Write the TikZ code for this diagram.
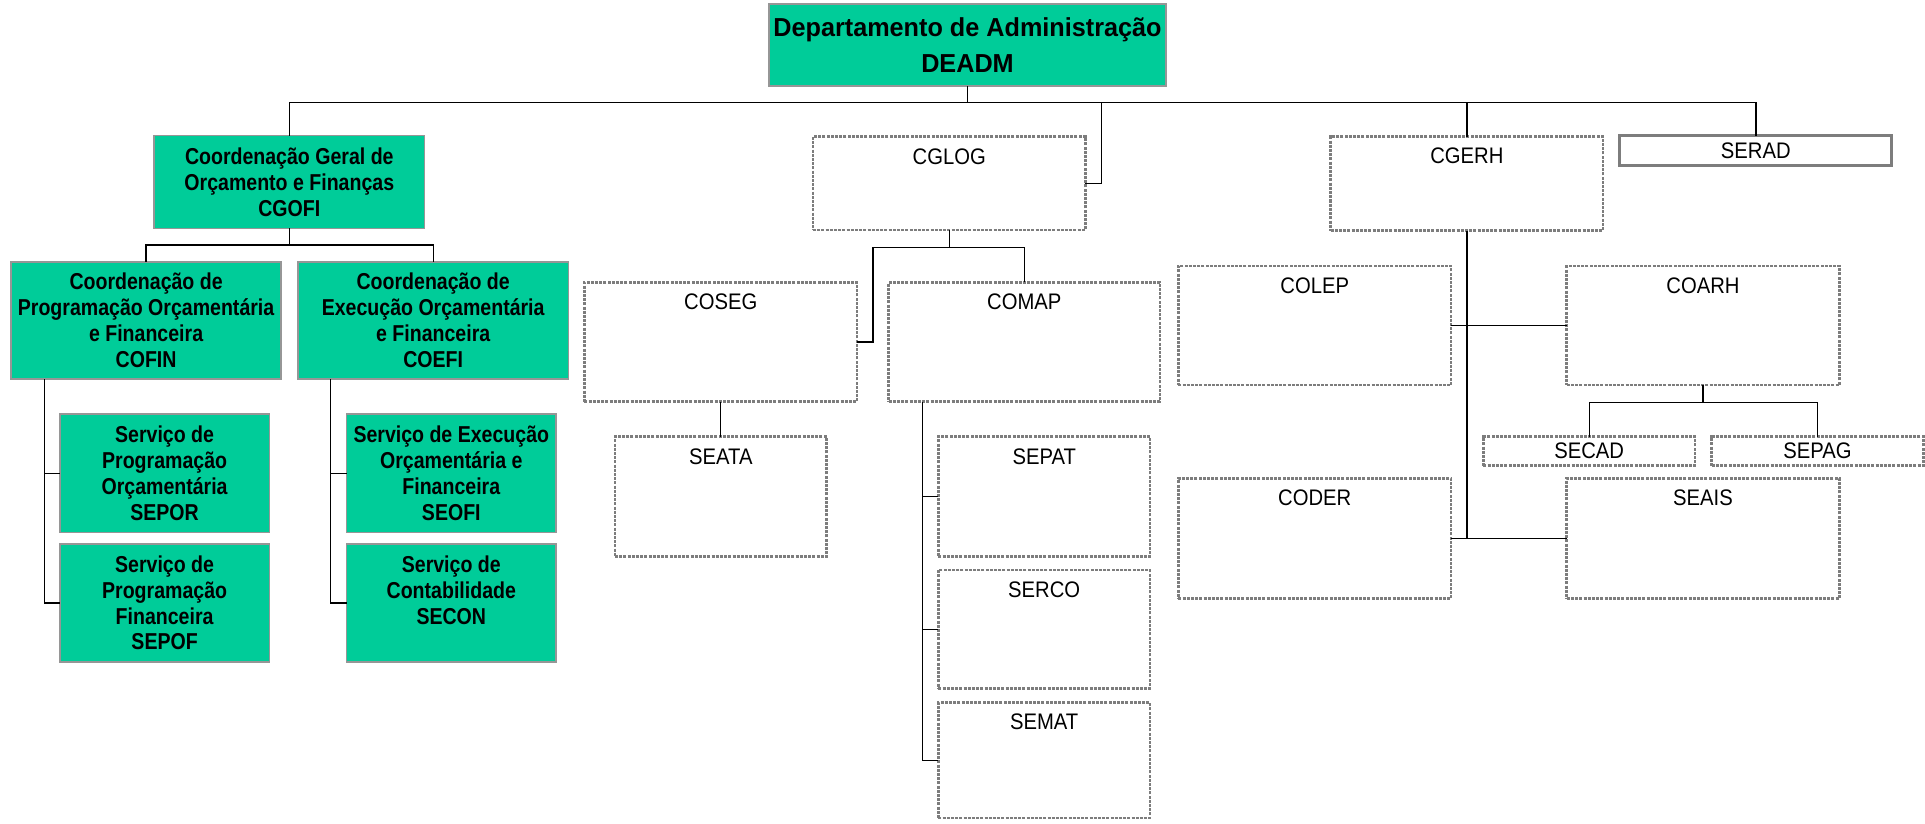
\documentclass[tikz,border=0pt]{standalone}
\usepackage{fontspec}
\setmainfont{Liberation Sans}
\newfontfamily\headsans[FakeStretch=0.97]{Liberation Sans}
\newfontfamily\narrowsans[FakeStretch=0.85]{Liberation Sans}
\newfontfamily\labelsans[FakeStretch=0.9]{Liberation Sans}
\usetikzlibrary{calc}

\definecolor{orgGreen}{RGB}{0,204,153}
\definecolor{greenEdge}{RGB}{150,150,150}
\definecolor{dashEdge}{RGB}{125,125,125}

% struts that centre the cap height of the first line / baseline of the last line
\newcommand\gst{\rule[-4.5pt]{0pt}{25.5pt}}
\newcommand\tst{\rule[-6.4pt]{0pt}{31.4pt}}

\tikzset{
  unitbase/.style={inner sep=0pt, outer sep=0pt},
  link/.style={draw=black, line width=1.4pt},
  topbox/.style={unitbase, draw=greenEdge, line width=1.6pt, fill=orgGreen, align=center,
    font=\headsans\bfseries\fontsize{26}{35.7}\selectfont},
  greenbox/.style={unitbase, draw=greenEdge, line width=1.6pt, fill=orgGreen, align=center,
    font=\narrowsans\bfseries\fontsize{23}{25.8}\selectfont},
  dashbox/.style={unitbase, draw=dashEdge, line width=2.6pt, dash pattern=on 3pt off 1.2pt,
    label={[anchor=base, yshift=-27.3pt, draw=none, fill=none, solid,
      font=\labelsans\fontsize{22.5}{25}\selectfont]north:#1}},
  slimbox/.style={unitbase, draw=dashEdge, line width=2.6pt, dash pattern=on 3pt off 1.2pt,
    font=\labelsans\fontsize{22.5}{25}\selectfont},
  solidbox/.style={unitbase, draw=dashEdge, line width=3pt,
    font=\labelsans\fontsize{22.5}{25}\selectfont},
}

\begin{document}
\begin{tikzpicture}[x=1pt, y=-1pt]
\useasboundingbox (0,0) rectangle (1925,824);

% ---- department ----
\node[topbox, minimum width=397pt, minimum height=82pt] (deadm) at (967.5,45)
  {\tst Departamento de Administração\\DEADM\tst};

% ---- budget and finance branch ----
\node[greenbox, minimum width=270.7pt, minimum height=92.6pt] (cgofi) at (289.3,182)
  {\gst Coordenação Geral de\\Orçamento e Finanças\\CGOFI\gst};
\node[greenbox, minimum width=270.2pt, minimum height=117.3pt] (cofin) at (146.1,320.4)
  {\gst Coordenação de\\Programação Orçamentária\\e Financeira\\COFIN\gst};
\node[greenbox, minimum width=270.8pt, minimum height=117.3pt] (coefi) at (433.2,320.4)
  {\gst Coordenação de\\Execução Orçamentária\\e Financeira\\COEFI\gst};
\node[greenbox, minimum width=209.4pt, minimum height=118.3pt] (sepor) at (164.6,473.2)
  {\gst Serviço de\\Programação\\Orçamentária\\SEPOR\gst};
\node[greenbox, minimum width=209.4pt, minimum height=117.7pt] (sepof) at (164.6,602.9)
  {\gst Serviço de\\Programação\\Financeira\\SEPOF\gst};
\node[greenbox, minimum width=209.4pt, minimum height=118.3pt] (seofi) at (451.3,473.2)
  {\gst Serviço de Execução\\Orçamentária e\\Financeira\\SEOFI\gst};
\node[greenbox, minimum width=209.4pt, minimum height=117.7pt] (secon) at (451.3,602.9)
  {\gst Serviço de\\Contabilidade\\SECON\\\gst};

% ---- logistics branch ----
\node[dashbox=CGLOG, minimum width=272.4pt, minimum height=93.3pt] (cglog) at (949.2,183.4) {};
\node[dashbox=COSEG, minimum width=272.6pt, minimum height=119.4pt] (coseg) at (720.7,342) {};
\node[dashbox=COMAP, minimum width=271.5pt, minimum height=119.4pt] (comap) at (1024.3,342) {};
\node[dashbox=SEATA, minimum width=211.7pt, minimum height=120pt] (seata) at (720.8,496.7) {};
\node[dashbox=SEPAT, minimum width=211.7pt, minimum height=120pt] (sepat) at (1044.2,496.7) {};
\node[dashbox=SERCO, minimum width=211.7pt, minimum height=118.3pt] (serco) at (1044.2,629.2) {};
\node[dashbox=SEMAT, minimum width=211.7pt, minimum height=115.3pt] (semat) at (1044.2,760.3) {};

% ---- human resources branch ----
\node[dashbox=CGERH, minimum width=272.3pt, minimum height=94pt] (cgerh) at (1466.8,183.7) {};
\node[dashbox=COLEP, minimum width=272.7pt, minimum height=119pt] (colep) at (1314.7,325.5) {};
\node[dashbox=COARH, minimum width=272.6pt, minimum height=119pt] (coarh) at (1703,325.5) {};
\node[dashbox=CODER, minimum width=272.7pt, minimum height=120.4pt] (coder) at (1314.7,538.5) {};
\node[dashbox=SEAIS, minimum width=272.6pt, minimum height=120.4pt] (seais) at (1703,538.5) {};
\node[slimbox, minimum width=211.6pt, minimum height=29pt] (secad) at (1589.2,451.2) {SECAD};
\node[slimbox, minimum width=211.6pt, minimum height=29pt] (sepag) at (1817.5,451.2) {SEPAG};

% ---- support service ----
\node[solidbox, minimum width=271.7pt, minimum height=30pt] (serad) at (1755.8,151) {SERAD};

% ---- connectors ----
\coordinate (bus) at (0,102.7);
\coordinate (logtap) at (1101.6,102.7);
\coordinate (finx) at (44.4,0);
\coordinate (exx) at (330.4,0);
\coordinate (logbar) at (873,247.7);
\coordinate (mapx) at (922.5,0);

\draw[link] (cgofi.north) |- (serad.north |- bus) -- (serad.north);
\draw[link] (deadm.south) -- (deadm.south |- bus);
\draw[link] (cgerh.north) -- (cgerh.north |- bus);
\draw[link] (cglog.east) -| (logtap);

\draw[link] (cgofi.south) -- ++(0,16.7);
\draw[link] (cofin.north) -- ++(0,-16.7) -| (coefi.north);
\draw[link] (cofin.south -| finx) |- (sepof.west);
\draw[link] (sepor.west) -- (sepor.west -| finx);
\draw[link] (coefi.south -| exx) |- (secon.west);
\draw[link] (seofi.west) -- (seofi.west -| exx);

\draw[link] (cglog.south) -- ++(0,17.7);
\draw[link] (comap.north) |- (logbar) |- (coseg.east);
\draw[link] (coseg.south) -- (coseg.south |- seata.north);
\draw[link] (comap.south -| mapx) |- (semat.west);
\draw[link] (sepat.west) -- (sepat.west -| mapx);
\draw[link] (serco.west) -- (serco.west -| mapx);

\draw[link] (cgerh.south) -- (cgerh.south |- coder.east);
\draw[link] (colep.east) -- (coarh.west);
\draw[link] (coder.east) -- (seais.west);
\draw[link] (coarh.south) -- ++(0,17.7);
\draw[link] (secad.north) -- ++(0,-34) -| (sepag.north);
\end{tikzpicture}
\end{document}
